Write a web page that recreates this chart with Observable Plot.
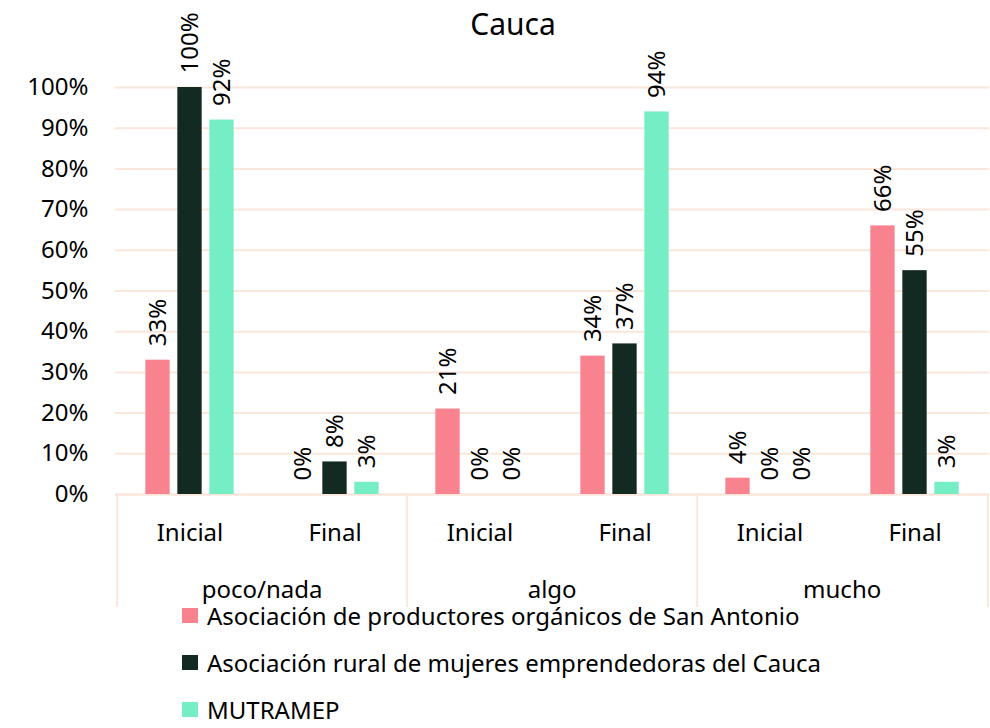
<!DOCTYPE html>
<html>
<head>
<meta charset="utf-8">
<script src="https://cdn.jsdelivr.net/npm/d3@7"></script>
<script src="https://cdn.jsdelivr.net/npm/@observablehq/plot@0.6"></script>
<style>
  html, body { margin: 0; padding: 0; background: #fff; }
  #wrap { position: relative; width: 990px; height: 728px; font-family: "Noto Sans", sans-serif; color: #000; }
  #title { position: absolute; left: 0; width: 1026px; top: 4px; text-align: center; font-size: 30px; line-height: 40px; }
  #chart { position: absolute; left: 0; top: 0; }
  #legend { position: absolute; left: 182px; top: 600px; }
  .item { display: flex; align-items: center; height: 30px; font-size: 24px; }
  .sw { width: 16px; height: 15px; margin-right: 9px; }
</style>
</head>
<body>
<div id="wrap">
  <div id="chart"></div>
  <div id="title">Cauca</div>
  <div id="legend"></div>
</div>
<script>
// ---- data ----
const groups = ["poco/nada", "algo", "mucho"];
const stages = ["Inicial", "Final"];
const seriesNames = [
  "Asociación de productores orgánicos de San Antonio",
  "Asociación rural de mujeres emprendedoras del Cauca",
  "MUTRAMEP"
];
// values per (group, stage): poco/nada Inicial, poco/nada Final, algo Inicial, algo Final, mucho Inicial, mucho Final
const sanAntonio = [0.33, 0.00, 0.21, 0.34, 0.04, 0.66];
const mujeres    = [1.00, 0.08, 0.00, 0.37, 0.00, 0.55];
const mutramep   = [0.92, 0.03, 0.00, 0.94, 0.00, 0.03];
const yTicks = [0, 0.1, 0.2, 0.3, 0.4, 0.5, 0.6, 0.7, 0.8, 0.9, 1.0];
const colors = ["#F8838F", "#132A23", "#75EDC5"];

// ---- layout ----
const W = 990, H = 610;
const mL = 115, mR = 1, mB = 3;
const y0 = 494, y100 = 87;
const bw = (W - mL - mR) / (groups.length * stages.length);
const barW = 25, barStep = 32;
const grid = "#FBE6DB";

const rows = [];
groups.forEach((g, gi) => stages.forEach((s, si) => {
  rows.push({key: g + "|" + s, group: g, stage: s, i: gi * stages.length + si});
}));
const keys = rows.map(r => r.key);
const allSeries = [sanAntonio, mujeres, mutramep];

const marks = [
  Plot.gridY(yTicks, {stroke: grid, strokeOpacity: 1, strokeWidth: 2}),
  Plot.axisY(yTicks, {tickSize: 0, tickPadding: 27, fontSize: 24, label: null, tickFormat: d => Math.round(d * 100) + "%"}),
  Plot.ruleY([0], {stroke: grid, strokeWidth: 2}),
  // separators between groups (extending below the axis)
  Plot.ruleX(rows.filter(r => r.stage === "Inicial"), {x: "key", insetTop: y0, dx: -bw / 2, stroke: grid, strokeWidth: 2}),
  Plot.ruleX(rows.slice(-1), {x: "key", insetTop: y0, dx: bw / 2, stroke: grid, strokeWidth: 2}),
  // stage labels
  Plot.text(rows, {x: "key", y: () => 0, text: "stage", dy: 39, fontSize: 24, fill: "#000"}),
  // group labels
  Plot.text(rows.filter(r => r.stage === "Final"), {x: "key", y: () => 0, text: "group", dx: -bw / 2, dy: 96, fontSize: 24, fill: "#000"})
];

allSeries.forEach((vals, si) => {
  const off = (si - 1) * barStep;
  const data = rows.map(r => ({key: r.key, v: vals[r.i]}));
  marks.push(Plot.barY(data, {
    x: "key", y: "v", fill: colors[si], dx: off,
    insetLeft: (bw - barW) / 2, insetRight: (bw - barW) / 2
  }));
  marks.push(Plot.text(data, {
    x: "key", y: "v", text: d => Math.round(d.v * 100) + "%",
    rotate: -90, textAnchor: "start", dx: off, dy: -14, fontSize: 24, fill: "#000"
  }));
});

const chart = Plot.plot({
  width: W, height: H,
  marginLeft: mL, marginRight: mR, marginBottom: mB, marginTop: 0,
  style: {fontFamily: "Noto Sans", fontSize: "24px", color: "#000", background: "transparent", overflow: "visible"},
  x: {type: "band", domain: keys, padding: 0, axis: null},
  y: {domain: [0, 1], range: [y0, y100], axis: null},
  marks
});
document.getElementById("chart").appendChild(chart);

const legend = document.getElementById("legend");
seriesNames.forEach((n, i) => {
  const it = document.createElement("div");
  it.className = "item";
  it.style.marginTop = i === 0 ? "0px" : "17px";
  const sw = document.createElement("div");
  sw.className = "sw";
  sw.style.background = colors[i];
  const t = document.createElement("span");
  t.textContent = n;
  it.appendChild(sw); it.appendChild(t);
  legend.appendChild(it);
});
</script>
</body>
</html>
